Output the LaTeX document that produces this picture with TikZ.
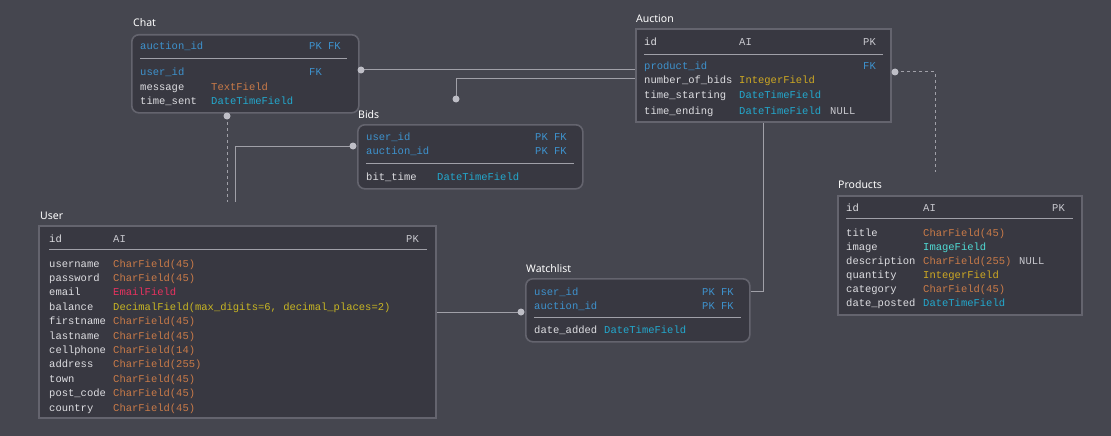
\documentclass[tikz,border=0pt]{standalone}
\usepackage{fontspec}
\setmainfont{Noto Sans}
\setmonofont{Liberation Mono}
\usepackage{xcolor}
\usepackage{tikz}
\usetikzlibrary{calc}
\definecolor{bgc}{RGB}{69,70,79}
\definecolor{tblc}{RGB}{56,56,65}
\definecolor{edgec}{RGB}{100,100,110}
\definecolor{linec}{RGB}{160,160,168}
\definecolor{dotc}{RGB}{190,190,198}
\definecolor{namec}{RGB}{222,222,226}
\definecolor{keyc}{RGB}{62,146,205}
\definecolor{charc}{RGB}{200,122,72}
\definecolor{datec}{RGB}{35,168,205}
\definecolor{intc}{RGB}{205,168,35}
\definecolor{imgc}{RGB}{80,218,212}
\definecolor{mailc}{RGB}{232,50,95}
\definecolor{decc}{RGB}{200,182,35}
\definecolor{tagc}{RGB}{200,200,206}

\begin{document}
\begin{tikzpicture}[x=1pt, y=-1pt,
  tbl/.style={draw=edgec, line width=1.6pt, fill=tblc, anchor=north west, inner sep=0pt},
  rtbl/.style={tbl, rounded corners=7pt},
  ttl/.style={anchor=base west, inner sep=0pt, text=white, font=\fontsize{10.5}{12}\selectfont},
  fld/.style={anchor=west, inner sep=0pt, yshift=-1.5pt, text height=7pt, text depth=2pt, text=namec, font=\ttfamily\fontsize{10.5}{12}\selectfont},
  sep/.style={draw=linec, line width=0.9pt},
  rel/.style={draw=linec, line width=1pt},
  opt/.style={rel, dashed, dash pattern=on 3pt off 3pt},
  dot/.style={circle, fill=dotc, inner sep=0pt, minimum size=7pt}
]
  \fill[bgc] (0,0) rectangle (1111,436);
  \useasboundingbox (0,0) rectangle (1111,436);

  % tables
  \node[rtbl, minimum width=227, minimum height=78] (chat) at (131,34) {};
  \node[rtbl, minimum width=225, minimum height=64] (bids) at (357,124) {};
  \node[tbl, minimum width=255, minimum height=93] (auction) at (635,28) {};
  \node[tbl, minimum width=244, minimum height=119] (products) at (837,195) {};
  \node[tbl, minimum width=397, minimum height=192] (user) at (38,225) {};
  \node[rtbl, minimum width=224, minimum height=63] (watch) at (525,278) {};

  \node[ttl] (chatT) at (133,27) {Chat};
  \node[ttl] (bidsT) at (358,118) {Bids};
  \node[ttl] (auctionT) at (636,23) {Auction};
  \node[ttl] (productsT) at (838,188) {Products};
  \node[ttl] (userT) at (40,219) {User};
  \node[ttl] (watchT) at (526,272) {Watchlist};

  % Chat
  \node[fld, text=keyc] (chat1) at (140,46) {auction\_id};
  \node[fld, text=keyc] (chat1k) at (309,46) {PK FK};
  \draw[sep] (140,58) -- (347,58);
  \node[fld, text=keyc] (chat2) at (140,71) {user\_id};
  \node[fld, text=keyc] (chat2k) at (309,71) {FK};
  \node[fld] (chat3) at (140,86) {message};
  \node[fld, text=charc] (chat3t) at (211,86) {TextField};
  \node[fld] (chat4) at (140,100) {time\_sent};
  \node[fld, text=datec] (chat4t) at (211,100) {DateTimeField};

  % Bids
  \node[fld, text=keyc] (bids1) at (366,136) {user\_id};
  \node[fld, text=keyc] (bids1k) at (535,136) {PK FK};
  \node[fld, text=keyc] (bids2) at (366,150) {auction\_id};
  \node[fld, text=keyc] (bids2k) at (535,150) {PK FK};
  \draw[sep] (366,163) -- (574,163);
  \node[fld] (bids3) at (366,176) {bit\_time};
  \node[fld, text=datec] (bids3t) at (437,176) {DateTimeField};

  % Auction
  \node[fld] (auc1) at (644,42) {id};
  \node[fld, text=tagc] (auc1t) at (739,42) {AI};
  \node[fld, text=tagc] (auc1k) at (863,42) {PK};
  \draw[sep] (644,54) -- (883,54);
  \node[fld, text=keyc] (auc2) at (644,66) {product\_id};
  \node[fld, text=keyc] (auc2k) at (863,66) {FK};
  \node[fld] (auc3) at (644,80) {number\_of\_bids};
  \node[fld, text=intc] (auc3t) at (739,80) {IntegerField};
  \node[fld] (auc4) at (644,95) {time\_starting};
  \node[fld, text=datec] (auc4t) at (739,95) {DateTimeField};
  \node[fld] (auc5) at (644,110) {time\_ending};
  \node[fld, text=datec] (auc5t) at (739,110) {DateTimeField};
  \node[fld, text=tagc] (auc5n) at (830,110) {NULL};

  % Products
  \node[fld] (prod0) at (846,207) {id};
  \node[fld, text=tagc] (prod0t) at (923,207) {AI};
  \node[fld, text=tagc] (prod0k) at (1052,207) {PK};
  \draw[sep] (846,218) -- (1073,218);
  \foreach \n/\t/\c [count=\i from 0] in {title/CharField(45)/charc, image/ImageField/imgc,
      description/CharField(255)/charc, quantity/IntegerField/intc,
      category/CharField(45)/charc, date\_posted/DateTimeField/datec}
    \node[fld] (prod\i) at (846,232+14*\i) {\n} node[fld, text=\c] at (923,232+14*\i) {\t};
  \node[fld, text=tagc] (prodN) at (1019,260) {NULL};

  % User
  \node[fld] (usr0) at (49,238) {id};
  \node[fld, text=tagc] (usr0t) at (113,238) {AI};
  \node[fld, text=tagc] (usr0k) at (406,238) {PK};
  \draw[sep] (49,249) -- (427,249);
  \foreach \n/\t/\c [count=\i from 0] in {username/CharField(45)/charc, password/CharField(45)/charc,
      email/EmailField/mailc, balance/{DecimalField(max\_digits=6, decimal\_places=2)}/decc,
      firstname/CharField(45)/charc, lastname/CharField(45)/charc, cellphone/CharField(14)/charc,
      address/CharField(255)/charc, town/CharField(45)/charc, post\_code/CharField(45)/charc,
      country/CharField(45)/charc}
    \node[fld] (usr\i) at (49,263+14.4*\i) {\n} node[fld, text=\c] at (113,263+14.4*\i) {\t};

  % Watchlist
  \node[fld, text=keyc] (wat1) at (534,291) {user\_id};
  \node[fld, text=keyc] (wat1k) at (702,291) {PK FK};
  \node[fld, text=keyc] (wat2) at (534,305) {auction\_id};
  \node[fld, text=keyc] (wat2k) at (702,305) {PK FK};
  \draw[sep] (534,317) -- (741,317);
  \node[fld] (wat3) at (534,329) {date\_added};
  \node[fld, text=datec] (wat3t) at (604,329) {DateTimeField};

  % relations
  \coordinate (chatR) at (361,70);
  \coordinate (bidsA) at (456,99);
  \coordinate (bidsU) at (353,146);
  \coordinate (chatU) at (227,116);
  \coordinate (watchU) at (521,312);
  \coordinate (aucP) at (895,72);
  \coordinate (endU1) at (227,202);
  \coordinate (endU2) at (235,202);
  \coordinate (endP) at (935,172);

  \draw[rel] (chatR) -- (auction.west |- chatR);
  \draw[rel] (bidsA) |- (auction.west |- 0,79);
  \draw[rel] (bidsU) -| (endU2);
  \draw[opt] (chatU) -- (endU1);
  \draw[rel] (user.east |- watchU) -- (watchU);
  \draw[rel] (watch.east |- 0,291) -| (auction.south -| 763,0);
  \draw[opt] (aucP) -| (endP);

  \foreach \d in {chatR, bidsA, bidsU, chatU, watchU, aucP}
    \node[dot] at (\d) {};
\end{tikzpicture}
\end{document}
